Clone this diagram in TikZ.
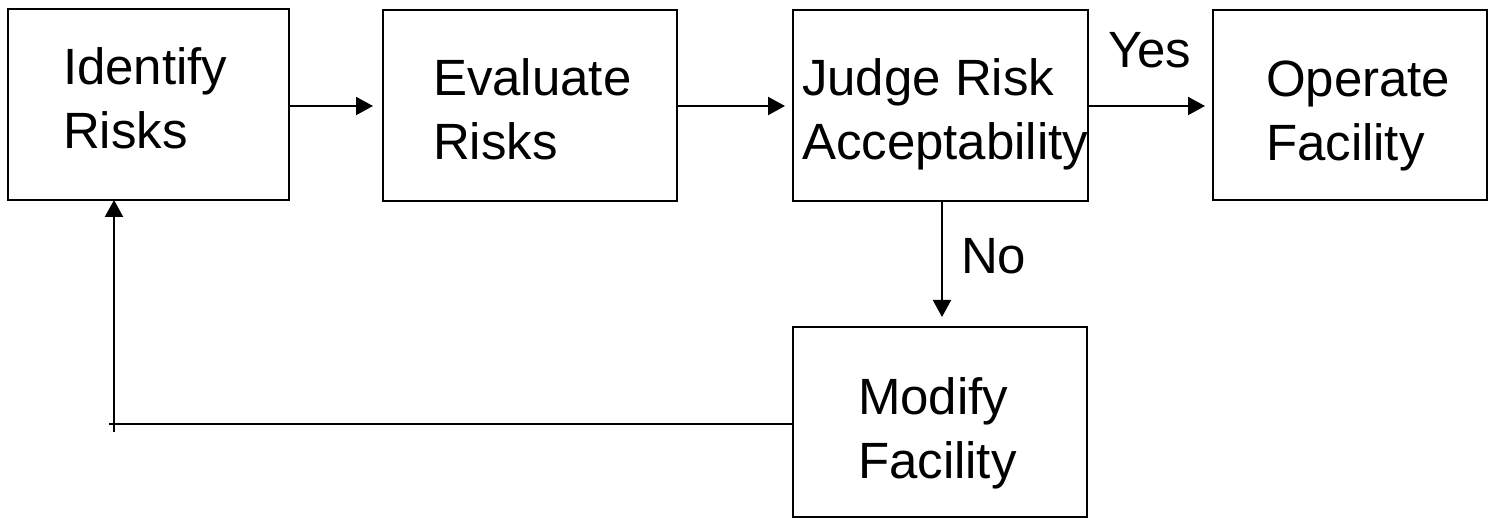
\documentclass[tikz,border=0pt]{standalone}
\usepackage{fontspec}
\setmainfont{Liberation Sans}
\usetikzlibrary{arrows.meta}
\begin{document}
\begin{tikzpicture}[x=0.5pt,y=-0.5pt,
  every node/.style={inner sep=0pt,outer sep=0pt},
  stepbox/.style={draw,line width=1.1pt,rectangle},
  steptext/.style={anchor=base west,font=\fontsize{25.5}{32}\selectfont},
  flow/.style={line width=1.1pt,-{Triangle[length=8.5pt,width=9pt]}},
  plain/.style={line width=1.1pt}]
\useasboundingbox (0,0) rectangle (1496,518);

% process boxes (sizes in pt, one pt = two picture units)
\node[stepbox,minimum width=140.5pt,minimum height=95.5pt] (b1) at (148.5,104.5) {};
\node[stepbox,minimum width=147pt,minimum height=95.5pt] (b2) at (530,105.5) {};
\node[stepbox,minimum width=147.5pt,minimum height=95.5pt] (b3) at (940.5,105.5) {};
\node[stepbox,minimum width=137pt,minimum height=95pt] (b4) at (1350,105) {};
\node[stepbox,minimum width=147pt,minimum height=95pt] (b5) at (940,422) {};

% box captions (two left-aligned lines each)
\newcommand\twolines[2]{\begin{tabular}[t]{@{}l@{}}#1\\#2\end{tabular}}
\node[steptext] (t1) at (63,85) {\twolines{Identify}{Risks}};
\node[steptext] (t2) at (433,96) {\twolines{Evaluate}{Risks}};
\node[steptext] (t3) at (802,96) {\twolines{Judge Risk}{Acceptability}};
\node[steptext] (t4) at (1266,97) {\twolines{Operate}{Facility}};
\node[steptext] (t5) at (858,415) {\twolines{Modify}{Facility}};

% decision labels
\node[steptext] (yes) at (1108,68) {Yes};
\node[steptext] (no) at (961,274) {No};

% forward flow along the top row
\coordinate (row) at (0,106);
\draw[flow,shorten >=5pt] (b1.east |- row) -- (b2.west |- row);
\draw[flow,shorten >=4pt] (b2.east |- row) -- (b3.west |- row);
\draw[flow,shorten >=4pt] (b3.east |- row) -- (b4.west |- row);
\coordinate (drop) at (942,0);
\draw[flow,shorten >=5pt] (drop |- b3.south) -- (drop |- b5.north);

% feedback loop back to the start
\coordinate (hend) at (109,424);
\coordinate (vstart) at (114,432);
\draw[plain] (b5.west |- hend) -- (hend);
\draw[flow] (vstart) -- (vstart |- b1.south);
\end{tikzpicture}
\end{document}
